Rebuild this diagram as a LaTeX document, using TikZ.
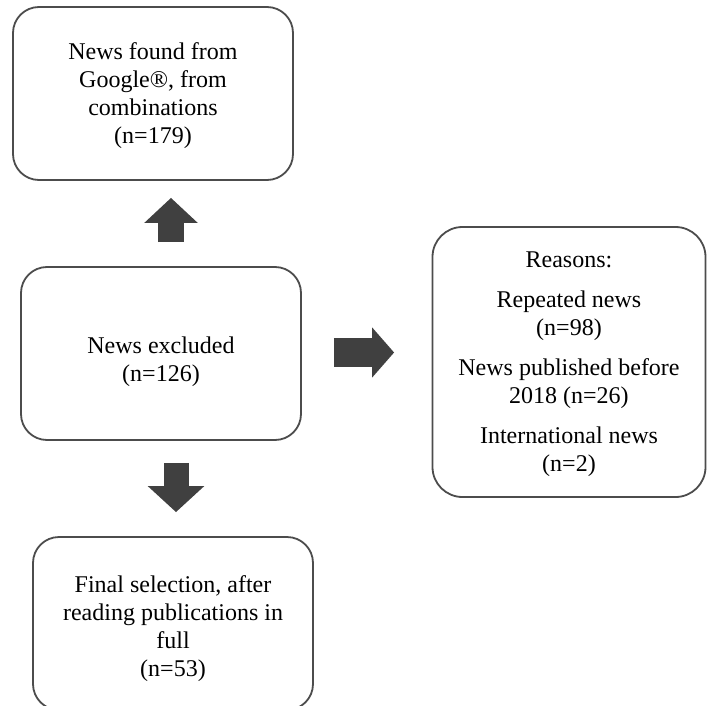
\documentclass[tikz,border=0pt]{standalone}
\usepackage{fontspec}
\setmainfont{Liberation Serif}
\usetikzlibrary{arrows.meta}
\definecolor{arrowgray}{HTML}{404040}
\tikzset{box/.style={draw=black!70, line width=1.8pt, rounded corners=26pt, minimum width=280pt, minimum height=173pt},
  boxtext/.style={align=center, font=\fontsize{24}{28}\selectfont},
  fat arrow/.style={draw=arrowgray, line width=26pt, -{Triangle[width=52pt,length=25pt]}}}

\begin{document}
\begin{tikzpicture}[x=1pt,y=-1pt]
\useasboundingbox (0,0) rectangle (707,706);
\clip (0,0) rectangle (707,706);
\node[box] (found) at (153,93.5) {};
\node[boxtext] (foundtext) at ([yshift=-2pt]found.center) {News found from\\Google®, from\\combinations\\(n=179)};
\node[box] (excluded) at (161,353.5) {};
\node[boxtext] (excludedtext) at ([yshift=-8pt]excluded.center) {News excluded\\(n=126)};
\node[box, minimum width=273pt, minimum height=270pt, rounded corners=30pt] (reasons) at (569,362) {};
\node[boxtext] (reasonstext) at ([yshift=-2pt]reasons.center) {Reasons:\\[12pt]Repeated news\\(n=98)\\[12pt]News published before\\2018 (n=26)\\[12pt]International news\\(n=2)};
\node[box] (final) at (173,623.5) {};
\node[boxtext] (finaltext) at ([yshift=-5pt]final.center) {Final selection, after\\reading publications in\\full\\(n=53)};
\draw[fat arrow] ([shift={(10,-24)}]excluded.north) -- ([shift={(18,17)}]found.south);
\draw[fat arrow, line width=29pt, -{Triangle[width=49pt,length=22pt]}] ([shift={(32,-1)}]excluded.east) -- ([shift={(-37.5,-9.5)}]reasons.west);
\draw[fat arrow, line width=25pt, -{Triangle[width=55pt,length=26pt]}] ([shift={(15,22)}]excluded.south) -- ([shift={(3,-24)}]final.north);
\end{tikzpicture}
\end{document}
